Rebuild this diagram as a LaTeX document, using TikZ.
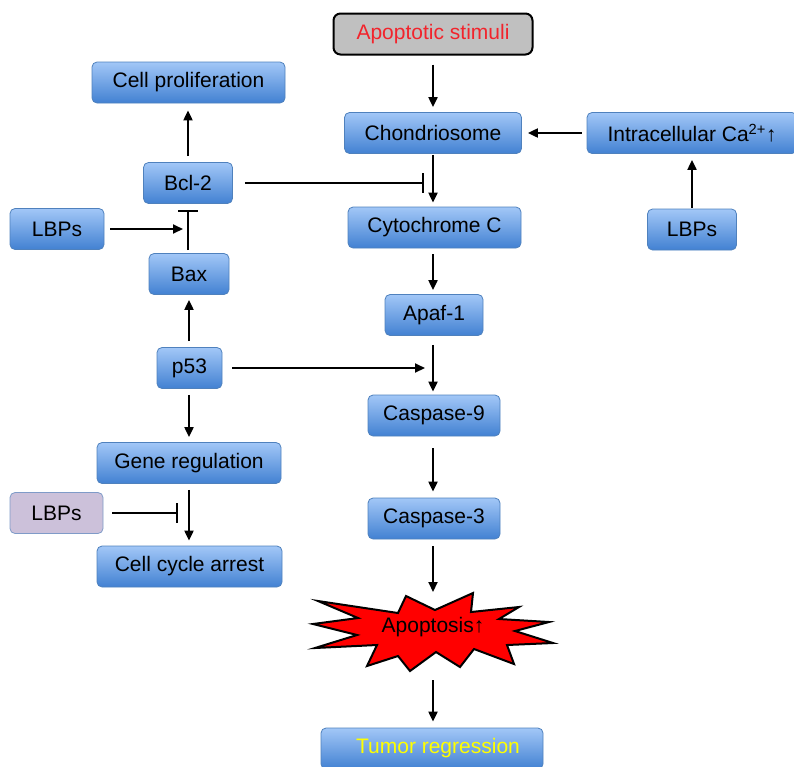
\documentclass[tikz,border=0pt]{standalone}
\usepackage{fontspec}
\setmainfont{Liberation Sans}
\usetikzlibrary{arrows.meta}
\definecolor{boxtop}{HTML}{A2C7F7}
\definecolor{boxbot}{HTML}{4281D2}
\definecolor{boxline}{HTML}{4F81BD}
\definecolor{lilac}{HTML}{CCC1DA}
\definecolor{lilacline}{HTML}{7F9BC8}
\definecolor{stimgrey}{HTML}{C0C0C0}
\definecolor{stimred}{HTML}{F2242C}
\definecolor{tumoryellow}{HTML}{FFFF00}
\tikzset{
  box/.style = {rounded corners=5pt, draw=boxline, line width=0.8pt, top color=boxtop, bottom color=boxbot,
                minimum height=41pt, inner sep=0pt, font=\fontsize{21}{24}\selectfont},
  lilacbox/.style = {box, top color=lilac, bottom color=lilac, draw=lilacline},
  stimbox/.style = {box, rounded corners=7pt, top color=stimgrey, bottom color=stimgrey, draw=black, line width=2pt, text=stimred},
  act/.style = {-{Triangle[length=10pt,width=9pt]}, line width=2pt},
  inh/.style = {-{Bar[width=20pt]}, line width=2pt}
}

\begin{document}
\begin{tikzpicture}[x=1pt, y=-1pt]
  \useasboundingbox (0,0) rectangle (794,766);
  \node [stimbox, minimum width=199pt] (stim) at (433,34) {Apoptotic stimuli};
  \node [box, minimum width=177pt] (chond) at (433,133) {Chondriosome};
  \node [box, minimum width=210pt] (ca) at (692,133) {Intracellular Ca\textsuperscript{2+}↑};
  \node [box, minimum width=89pt] (lbpR) at (692,229.5) {LBPs};
  \node [box, minimum width=193pt] (prolif) at (188.5,82.5) {Cell proliferation};
  \node [box, minimum width=89pt] (bcl) at (188,183) {Bcl-2};
  \node [box, minimum width=94pt] (lbpL) at (57,229) {LBPs};
  \node [box, minimum width=80pt] (bax) at (189,274) {Bax};
  \node [box, minimum width=173pt] (cyto) at (434.5,227.5) {Cytochrome C};
  \node [box, minimum width=98pt] (apaf) at (434,315) {Apaf-1};
  \node [box, minimum width=65pt] (p53) at (189.5,368) {p53};
  \node [box, minimum width=132pt] (casp9) at (434,415.5) {Caspase-9};
  \node [box, minimum width=184pt] (gene) at (189,463) {Gene regulation};
  \node [lilacbox, minimum width=93pt] (lbpP) at (56.5,513) {LBPs};
  \node [box, minimum width=185pt] (arrest) at (189.5,566.5) {Cell cycle arrest};
  \node [box, minimum width=132pt] (casp3) at (434,518.5) {Caspase-3};
  \draw [fill=red, line width=2pt, line join=miter]
        (318,601) -- (398,613) -- (406,596) -- (435,610) -- (473,593) -- (471,612)
        -- (519,607) -- (499,619) -- (549,622) -- (515,631) -- (553,643) -- (507,645)
        -- (514,664) -- (474,649) -- (460,667) -- (436,652) -- (410,671) -- (398,656)
        -- (367,666) -- (377,645) -- (315,648) -- (357,635) -- (313,624) -- (358,618) -- cycle;
  \node [font=\fontsize{21}{24}\selectfont] (apop) at (433,627) {Apoptosis↑};
  \node [box, minimum width=222pt, text=tumoryellow] (tumor) at (432,748.5) {\hspace{12pt}Tumor regression};
  \coordinate (apoptop) at (433,592);
  \coordinate (apopbot) at (433,680);

  \draw [act, shorten <=9pt, shorten >=5pt] (stim.south) -- (stim.south |- chond.north);
  \draw [act, shorten <=5pt, shorten >=6pt] (ca) -- (chond);
  \draw [act, shorten <=1pt, shorten >=6pt] (lbpR.north) -- (lbpR.north |- ca.south);
  \draw [act, shorten <=1pt, shorten >=4pt] (chond.south) -- (chond.south |- cyto.north);
  \draw [inh, shorten <=12pt, shorten >=9pt] (bcl.east) -- (bcl.east -| chond.south);
  \draw [act, shorten <=6pt, shorten >=4pt] (cyto.south -| chond.south) -- (chond.south |- apaf.north);
  \draw [act, shorten <=9pt, shorten >=3pt] (apaf.south -| chond.south) -- (chond.south |- casp9.north);
  \draw [act, shorten <=10pt, shorten >=8pt] (p53.east) -- (p53.east -| chond.south);
  \draw [act, shorten <=12pt, shorten >=6pt] (casp9.south -| chond.south) -- (chond.south |- casp3.north);
  \draw [act, shorten <=7pt] (casp3.south -| chond.south) -- (apoptop);
  \draw [act, shorten >=6pt] (apopbot) -- (apopbot |- tumor.north);
  \draw [act, shorten <=6pt, shorten >=7pt] (bcl.north) -- (bcl.north |- prolif.south);
  \draw [inh, shorten <=3pt, shorten >=6pt] (bax.north -| bcl.south) -- (bcl.south);
  \draw [act, shorten <=6pt, shorten >=5pt] (lbpL.east) -- (lbpL.east -| bcl.south);
  \draw [act, shorten <=6pt, shorten >=5pt] (p53.north -| bax.south) -- (bax.south);
  \draw [act, shorten <=6pt, shorten >=5pt] (p53.south -| gene.north) -- (gene.north);
  \draw [act, shorten <=6pt, shorten >=5pt] (gene.south) -- (gene.south |- arrest.north);
  \draw [inh, shorten <=9pt, shorten >=11pt] (lbpP.east) -- (lbpP.east -| gene.south);
\end{tikzpicture}
\end{document}
